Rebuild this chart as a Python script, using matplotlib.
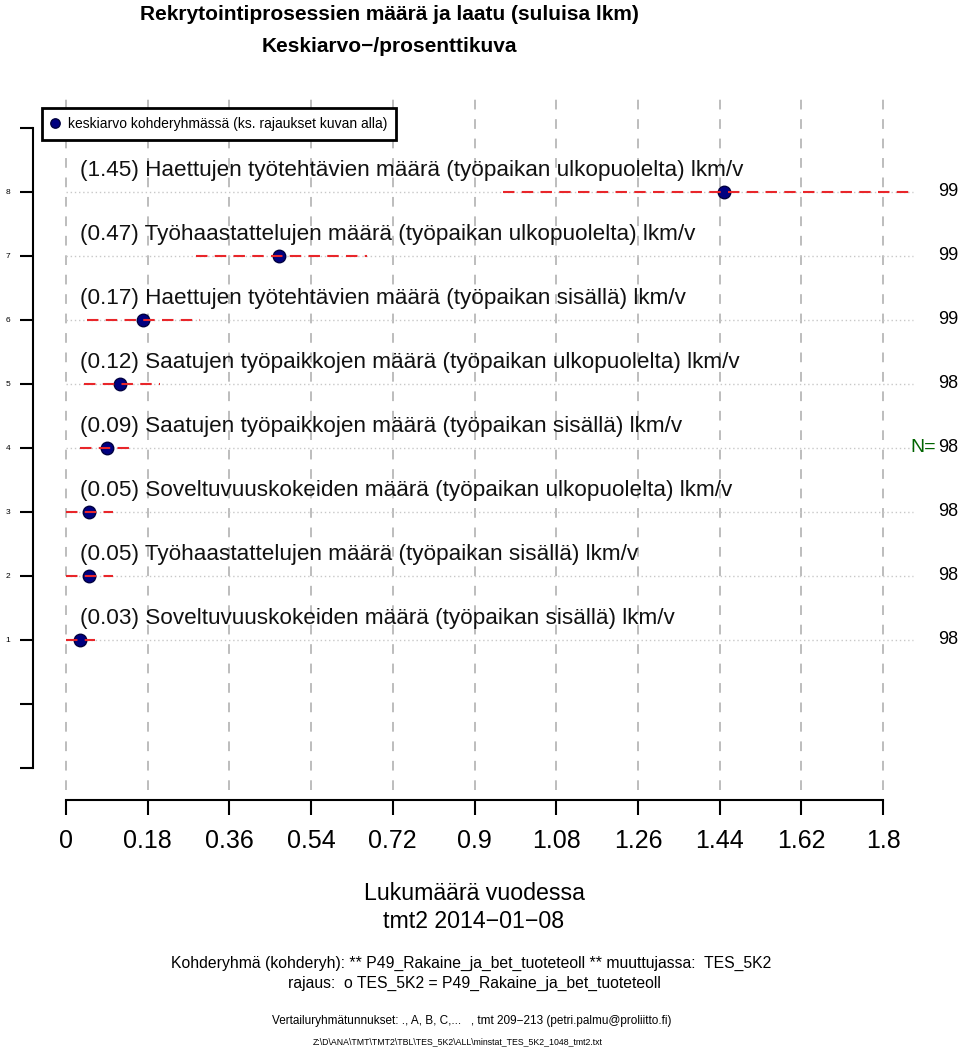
import matplotlib
matplotlib.use("Agg")
import matplotlib.pyplot as plt

plt.rcParams['font.family'] = ['Liberation Sans', 'DejaVu Sans']

# data (bottom to top = rows 1..8)
labels = [
    "Soveltuvuuskokeiden määrä (työpaikan sisällä) lkm/v",
    "Työhaastattelujen määrä (työpaikan sisällä) lkm/v",
    "Soveltuvuuskokeiden määrä (työpaikan ulkopuolelta) lkm/v",
    "Saatujen työpaikkojen määrä (työpaikan sisällä) lkm/v",
    "Saatujen työpaikkojen määrä (työpaikan ulkopuolelta) lkm/v",
    "Haettujen työtehtävien määrä (työpaikan sisällä) lkm/v",
    "Työhaastattelujen määrä (työpaikan ulkopuolelta) lkm/v",
    "Haettujen työtehtävien määrä (työpaikan ulkopuolelta) lkm/v",
]
means = [0.03, 0.05, 0.05, 0.09, 0.12, 0.17, 0.47, 1.45]
ci_low = [0.0, 0.0, 0.0, 0.031, 0.040, 0.046, 0.286, 0.963]
ci_high = [0.064, 0.104, 0.104, 0.148, 0.207, 0.295, 0.663, 1.864]
n_values = [98, 98, 98, 98, 98, 99, 99, 99]
rows = [1, 2, 3, 4, 5, 6, 7, 8]

x_ticks = [0, 0.18, 0.36, 0.54, 0.72, 0.9, 1.08, 1.26, 1.44, 1.62, 1.8]
x_tick_labels = ["0", "0.18", "0.36", "0.54", "0.72", "0.9", "1.08", "1.26", "1.44", "1.62", "1.8"]
y_ticks = [-1, 0, 1, 2, 3, 4, 5, 6, 7, 8, 9]
y_tick_labels = ["", "", "1", "2", "3", "4", "5", "6", "7", "8", ""]

W, H = 960, 1047
fig = plt.figure(figsize=(W / 100, H / 100), dpi=100)

# axes covering whole width, pixel -> data: x = (px-66)/453.9, y = 1 + (640-py)/64
ax = fig.add_axes([0, 1 - 860 / H, 1, (860 - 90) / H])
ax.set_xlim(-66 / 453.9, (W - 66) / 453.9)
ax.set_ylim(1 - 220 / 64, 1 + 550 / 64)
ax.patch.set_alpha(0)

# grid
for xt in x_ticks:
    ax.plot([xt, xt], [-1.35, 9.45], color='#bdbdbd', lw=1.4, ls=(0, (5, 5)), zorder=1)
for r in rows:
    ax.plot([0, 1.865], [r, r], color='#c8c8c8', lw=1.0, ls=(0, (1, 2)), zorder=1)

# points and intervals
ax.plot(means, rows, 'o', ms=9, mfc='#000080', mec='#000040', mew=1,
        label="keskiarvo kohderyhmässä (ks. rajaukset kuvan alla)", zorder=3)
for lo, hi, r in zip(ci_low, ci_high, rows):
    ax.plot([lo, hi], [r, r], color='#e8262a', lw=1.5, ls=(0, (5.5, 3.5)), zorder=4)

for m, lab, r in zip(means, labels, rows):
    ax.text(0.03, r + 0.33, f"({m:.2f}) {lab}", fontsize=16.2, va='center', ha='left', color='#111111')

# N column
for n, r in zip(n_values, rows):
    ax.text(1.943, r, str(n), fontsize=13, va='center', ha='center')
ax.text(1.916, 4, "N=", fontsize=14, va='center', ha='right', color='#006400')

# axes spines like R
for s in ['top', 'right']:
    ax.spines[s].set_visible(False)
ax.spines['left'].set_position(('data', -33 / 453.9))
ax.spines['left'].set_bounds(-1, 9)
ax.spines['left'].set_linewidth(1.5)
ax.spines['bottom'].set_position(('data', -1.5))
ax.spines['bottom'].set_bounds(0, 1.8)
ax.spines['bottom'].set_linewidth(1.5)
ax.set_yticks(y_ticks)
ax.set_yticklabels(y_tick_labels)
ax.set_xticks(x_ticks)
ax.set_xticklabels(x_tick_labels)
ax.tick_params(axis='y', length=9.5, width=1.5, pad=7, labelsize=6)
ax.tick_params(axis='x', length=11, width=1.5, pad=10, labelsize=18)

leg = ax.legend(loc='upper left', bbox_to_anchor=(42 / W, 1 - 108 / H), bbox_transform=fig.transFigure,
                borderaxespad=0, fancybox=False, edgecolor='black', framealpha=1, fontsize=10,
                handlelength=0.6, handletextpad=0.6, borderpad=0.65, markerscale=0.75)
leg.get_frame().set_linewidth(2)

# titles and footnotes
fig.text(389 / W, 1 - 15 / H, "Rekrytointiprosessien määrä ja laatu (suluisa lkm)", ha='center', va='center',
         fontsize=15, fontweight='bold')
fig.text(389 / W, 1 - 47 / H, "Keskiarvo\u2212/prosenttikuva", ha='center', va='center', fontsize=15, fontweight='bold')
fig.text(474 / W, 1 - 894 / H, "Lukumäärä vuodessa", ha='center', va='center', fontsize=16.7)
fig.text(474 / W, 1 - 921 / H, "tmt2 2014\u221201\u221208", ha='center', va='center', fontsize=16.7)
fig.text(471 / W, 1 - 963 / H, "Kohderyhmä (kohderyh): ** P49_Rakaine_ja_bet_tuoteteoll ** muuttujassa:  TES_5K2",
         ha='center', va='center', fontsize=11.3)
fig.text(474 / W, 1 - 983 / H, "rajaus:  o TES_5K2 = P49_Rakaine_ja_bet_tuoteteoll", ha='center', va='center',
         fontsize=11.3)
fig.text(472 / W, 1 - 1021 / H, "Vertailuryhmätunnukset: ., A, B, C,...   , tmt 209\u2212213 (petri.palmu@proliitto.fi)",
         ha='center', va='center', fontsize=8.5)
fig.text(458 / W, 1 - 1042 / H, "Z:\\D\\ANA\\TMT\\TMT2\\TBL\\TES_5K2\\ALL\\minstat_TES_5K2_1048_tmt2.txt",
         ha='center', va='center', fontsize=6.3)

fig.savefig("out.png", dpi=100)
